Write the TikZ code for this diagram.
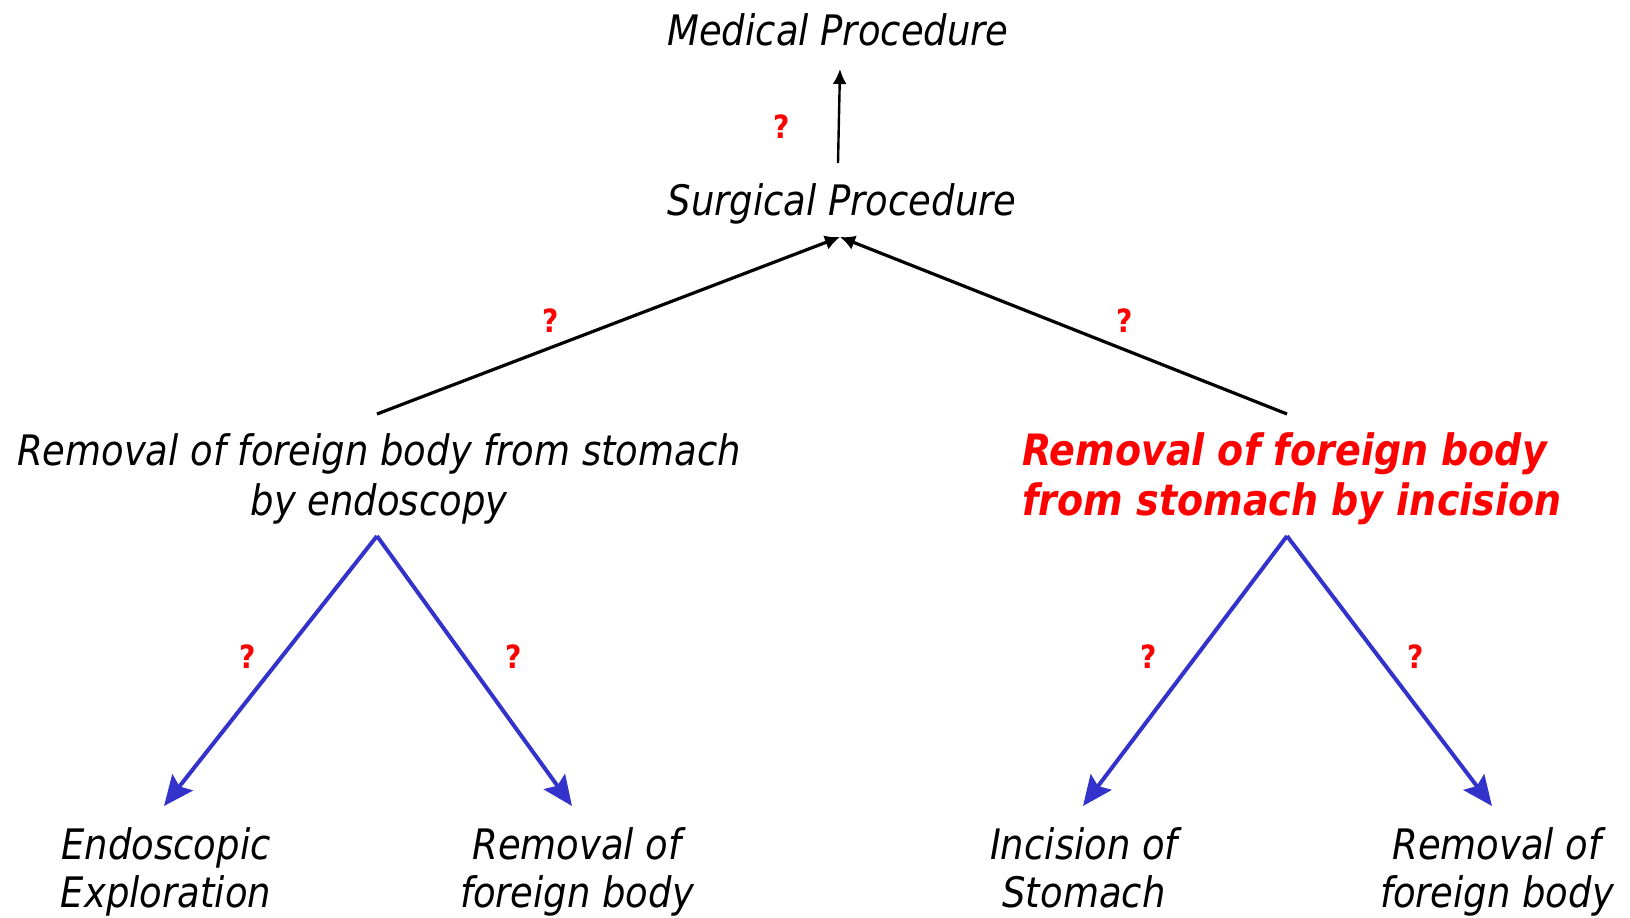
\documentclass[tikz,border=0pt]{standalone}
\usepackage{fontspec}
\usetikzlibrary{arrows.meta}
\newfontfamily\tfont[FakeStretch=0.88]{DejaVu Sans}
\definecolor{qred}{HTML}{FF0000}
\definecolor{lblue}{HTML}{3333CC}
\begin{document}
\begin{tikzpicture}[x=0.5pt,y=-0.5pt,
  lbl/.style={inner sep=0pt,anchor=base,font=\tfont\itshape\fontsize{21pt}{25pt}\selectfont,align=center},
  lowlbl/.style={lbl,font=\tfont\itshape\fontsize{21pt}{24pt}\selectfont},
  redlbl/.style={lbl,text=qred,align=left,font=\tfont\bfseries\itshape\fontsize{21.6pt}{25pt}\selectfont},
  qmark/.style={inner sep=0pt,text=qred,font=\tfont\bfseries\fontsize{16pt}{18pt}\selectfont},
  blk/.style={draw=black,line width=1.6pt,-{Latex[length=7.5pt,width=7.5pt]}},
  blkthin/.style={draw=black,line width=1.2pt,-{Latex[length=7.5pt,width=7pt]}},
  blu/.style={draw=lblue,line width=2pt,-{Stealth[length=15pt,width=13pt,inset=2.5pt]}}]
\useasboundingbox (0,0) rectangle (1630,917);
% nodes (multi-line nodes are anchored at the baseline of their last line)
\node[lbl] (med) at (838,45) {Medical Procedure};
\node[lbl] (sur) at (842,215) {Surgical Procedure};
\node[lbl] (endo) at (379,515) {Removal of foreign body from stomach\\by endoscopy};
\node[redlbl,anchor=base west] (inc) at (1022,515) {Removal of foreign body\\from stomach by incision};
\node[lowlbl] (expl) at (166,907) {Endoscopic\\Exploration};
\node[lowlbl] (remA) at (577,907) {Removal of\\foreign body};
\node[lowlbl] (incst) at (1084,907) {Incision of\\Stomach};
\node[lowlbl] (remB) at (1497,907) {Removal of\\foreign body};
% connector ends
\coordinate (medIn) at (840,69);
\coordinate (surOut) at (838,163);
\coordinate (surIn) at (840,237);
\coordinate (endoOut) at (377,414);
\coordinate (incOut) at (1287,414);
\coordinate (endoDown) at (377,536);
\coordinate (incDown) at (1287,536);
\coordinate (explIn) at (164,806);
\coordinate (remAIn) at (572,806);
\coordinate (incstIn) at (1083,806);
\coordinate (remBIn) at (1492,806);
% connectors
\draw[blkthin] (surOut) -- (medIn);
\draw[blk] (endoOut) -- (surIn);
\draw[blk] (incOut) -- (surIn);
\draw[blu] (endoDown) -- (explIn);
\draw[blu] (endoDown) -- (remAIn);
\draw[blu] (incDown) -- (incstIn);
\draw[blu] (incDown) -- (remBIn);
% question marks
\node[qmark] (q1) at (782,127) {?};
\node[qmark] (q2) at (551,321) {?};
\node[qmark] (q3) at (1125,321) {?};
\node[qmark] (q4) at (248,657) {?};
\node[qmark] (q5) at (514,657) {?};
\node[qmark] (q6) at (1149,657) {?};
\node[qmark] (q7) at (1416,657) {?};
\end{tikzpicture}
\end{document}
